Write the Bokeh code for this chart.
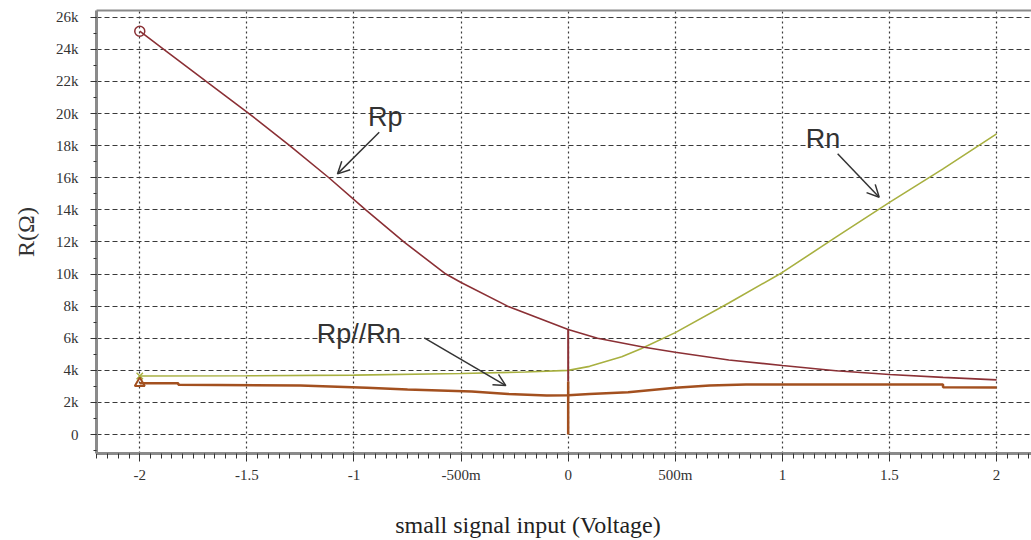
from bokeh.plotting import figure
from bokeh.models import (Range1d, SingleIntervalTicker, FixedTicker, LinearAxis,
                          Label, Arrow, OpenHead)
from bokeh.embed import file_html
from bokeh.resources import INLINE

# Sweep of the small-signal input (V) and the resulting resistances (ohm)
rp_v = [-2.0, -1.888, -1.69, -1.49, -1.30, -1.117, -0.945, -0.767, -0.571,
        -0.5, -0.283, 0.0, 0.137, 0.355, 0.5, 0.75, 1.0, 1.25, 1.5, 1.75, 2.0]
rp_ohm = [25130, 24000, 22000, 20000, 18000, 16000, 14000, 12000, 10000,
          9470, 8000, 6540, 6000, 5440, 5130, 4650, 4300, 3980, 3740, 3560, 3410]

rn_v = [-2.0, -1.5, -1.0, -0.5, -0.2, 0.0, 0.1, 0.25, 0.34, 0.5, 0.75, 1.0,
        1.25, 1.5, 1.75, 2.0]
rn_ohm = [3650, 3660, 3700, 3800, 3900, 4000, 4250, 4850, 5350, 6350, 8200,
          10100, 12300, 14470, 16550, 18730]

rpn_v = [-2.0, -1.82, -1.82, -1.25, -0.94, -0.75, -0.45, -0.28, -0.1, 0.0,
         0.1, 0.28, 0.5, 0.66, 0.83, 1.0, 1.5, 1.75, 1.75, 2.0]
rpn_ohm = [3200, 3200, 3100, 3050, 2910, 2800, 2680, 2530, 2430, 2450,
           2530, 2640, 2910, 3050, 3120, 3120, 3120, 3120, 2950, 2930]

# Retrace of the operating point at 0 V
rp_step_v = [0.0, 0.0]
rp_step_ohm = [6540, 3300]
rpn_step_v = [0.0, 0.0]
rpn_step_ohm = [3300, 0]

x_ticks = {-2.0: "-2", -1.5: "-1.5", -1.0: "-1", -0.5: "-500m", 0.0: "0",
           0.5: "500m", 1.0: "1", 1.5: "1.5", 2.0: "2"}
y_ticks = {v: (f"{v // 1000}k" if v else "0") for v in range(0, 26001, 2000)}

RP_COLOR = "#8b3035"
RN_COLOR = "#a8b040"
RPN_COLOR = "#a3501f"
INK = "#333333"
SERIF = "Liberation Serif"
SANS = "Liberation Sans"

p = figure(width=1031, height=540, output_backend="svg", toolbar_location=None,
           x_range=Range1d(-2.202, 2.163), y_range=Range1d(-1180, 26420),
           min_border_left=96, min_border_right=0, min_border_top=10,
           min_border_bottom=87, background_fill_color="white",
           border_fill_color="white", outline_line_color=None)

xtick = SingleIntervalTicker(interval=0.5, num_minor_ticks=10)
ytick = SingleIntervalTicker(interval=2000, num_minor_ticks=2)
p.xaxis.ticker = xtick
p.yaxis.ticker = ytick
p.xgrid.ticker = xtick
p.ygrid.ticker = ytick

p.xaxis.major_label_overrides = x_ticks
p.yaxis.major_label_overrides = y_ticks

for ax in (p.xaxis, p.yaxis):
    ax.axis_line_color = "#8a8a8a"
    ax.axis_line_width = 3
    ax.major_tick_line_color = INK
    ax.minor_tick_line_color = INK
    ax.major_tick_in = 0
    ax.minor_tick_in = 0
    ax.major_label_text_font = SERIF
    ax.major_label_text_font_size = "15px"
    ax.major_label_text_color = INK
    ax.axis_label_text_font = SERIF
    ax.axis_label_text_font_size = "24px"
    ax.axis_label_text_font_style = "normal"

p.xaxis.major_tick_out = 8
p.xaxis.minor_tick_out = 5
p.xaxis.major_label_standoff = 5
p.yaxis.major_tick_out = 6
p.yaxis.minor_tick_out = 3
p.yaxis.major_label_standoff = 12

p.yaxis.axis_label = "R(Ω)"
p.yaxis.axis_label_text_color = INK
p.yaxis.axis_label_standoff = 14

# Trailing no-break spaces move the centred title a little to the left
p.xaxis.axis_label = "small signal input (Voltage)" + "\u00a0" * 12
p.xaxis.axis_label_text_color = "#222222"
p.xaxis.axis_label_standoff = 26

# Top border of the plot area
top = LinearAxis(ticker=FixedTicker(ticks=[]), major_tick_out=0,
                 major_tick_in=0, minor_tick_out=0, minor_tick_in=0,
                 axis_line_color="#8a8a8a", axis_line_width=2)
p.add_layout(top, "above")

p.xgrid.grid_line_color = "#3a3a3a"
p.xgrid.grid_line_dash = "2 3"
p.xgrid.grid_line_width = 1.2
p.ygrid.grid_line_color = "#3a3a3a"
p.ygrid.grid_line_dash = "5 3"
p.ygrid.grid_line_width = 1.2

# Traces
p.line(rn_v, rn_ohm, line_color=RN_COLOR, line_width=1.6)
p.line(rp_v, rp_ohm, line_color=RP_COLOR, line_width=1.6)
p.line(rp_step_v, rp_step_ohm, line_color=RP_COLOR, line_width=2)
p.line(rpn_step_v, rpn_step_ohm, line_color=RPN_COLOR, line_width=2.5)
p.line(rpn_v, rpn_ohm, line_color=RPN_COLOR, line_width=2.5)

# Start-of-trace markers
p.scatter([rp_v[0]], [rp_ohm[0]], marker="circle", size=10, fill_color=None,
          line_color=RP_COLOR, line_width=1.5)
p.scatter([rn_v[0]], [rn_ohm[0]], marker="x", size=9, line_color=RN_COLOR,
          line_width=1.5)
p.scatter([rpn_v[0]], [rpn_ohm[0]], marker="triangle", size=10,
          fill_color=None, line_color=RPN_COLOR, line_width=2)

# Trace names with pointers
for txt, x, y in (("Rp", -0.935, 19800), ("Rn", 1.109, 18420),
                  ("Rp//Rn", -1.174, 6270)):
    p.add_layout(Label(x=x, y=y, text=txt, text_font=SANS,
                       text_font_size="27px", text_color=INK,
                       text_baseline="alphabetic"))

for x0, y0, x1, y1 in ((-0.882, 18830, -1.077, 16240),
                       (1.258, 17490, 1.452, 14790),
                       (-0.672, 6020, -0.291, 3050)):
    p.add_layout(Arrow(x_start=x0, y_start=y0, x_end=x1, y_end=y1,
                       line_color=INK, line_width=1.5,
                       end=OpenHead(size=12, line_color=INK, line_width=1.5)))

open("out.html", "w").write(file_html(p, INLINE))
